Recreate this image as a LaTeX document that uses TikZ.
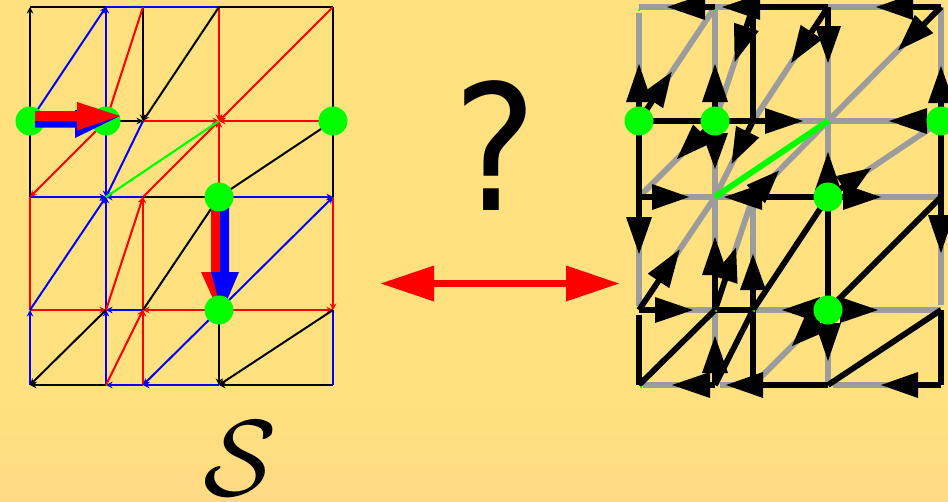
\documentclass[tikz,border=0pt]{standalone}
\usepackage{fontspec}
\newfontfamily\qfont{DejaVu Sans Condensed}
\usetikzlibrary{arrows.meta,calc}
\definecolor{bgtop}{HTML}{FFE17F}
\definecolor{bgbot}{HTML}{FFDA84}
\definecolor{gr}{HTML}{9C9C9C}
\definecolor{gn}{HTML}{00FF00}
\definecolor{bl}{HTML}{0000FF}
\definecolor{rd}{HTML}{FF0000}
\tikzset{
 thin edge/.style={line width=2pt,-{Stealth[length=6.5pt,width=6.5pt]}},
 plain edge/.style={line width=2pt},
 thick black/.style={line width=5.8pt,black},
 thick gray/.style={line width=5.8pt,gr},
 spot/.style={circle,fill=gn,inner sep=0pt,minimum size=29pt},
 speck/.style={circle,fill=gn,inner sep=0pt,minimum size=3pt},
}
\newcommand{\mA}[3]{\draw[thin edge,#1] (#2) -- (#3);}
\newcommand{\mP}[3]{\draw[plain edge,#1] (#2) -- (#3);}
\newcommand{\rightedges}{%
 \rE{R10}{R00}{10}{47}
 \rE{R30}{R10}{68}{105}
 \rE{R40}{R30}{28}{64}
 \rE{R01}{R00v}{19}{56}
 \rE{R01}{R03u}{96}{132}
 \rE{R11}{R10}{19}{56}
 \rE{R11}{R12}{12}{47}
 \rE{R13}{R12}{35}{72}
 \rE{R14}{R13}{12}{48}
 \rE{R23}{R22}{20}{55}
 \rE{R30}{R31}{19}{55}
 \rE{R32}{R31}{7}{44}
 \rE{R33}{R34}{13}{50}
 \rE{R41}{R40}{18}{54}
 \rE{R42}{R43u}{18}{55}
 \rE{R01}{R31}{126}{163}
 \rE{R41}{R31}{14}{51}
 \rE{R02}{R12}{13}{49}
 \rE{R32}{R12}{66}{103}
 \rE{R32}{R42}{15}{52}
 \rE{R03}{R13}{16}{53}
 \rE{R33}{R23}{8}{45}
 \rE{R33}{R43}{12}{49}
 \rE{R14}{R04b}{5}{42}
 \rE{R34}{R14b}{65}{101}
 \rE{R44}{R34b}{23}{59}
 \rE{R01}{R10}{24}{58}
 \rE{R20}{R11}{21}{57}
 \rE{R30}{R21}{30}{66}
 \rE{R40}{R31}{24}{60}
 \rE{R11}{R02}{18}{53}
 \rE{R21}{R12}{12}{47}
 \rE{R22}{R31}{4}{36}
 \rE{R32}{R41}{18}{51}
 \rE{R03}{R12}{35}{72}
 \rE{R13}{R22}{32}{65}
 \rE{R33}{R24}{18}{50}
}
\newcommand{\blackedges}{%
 \bE{R02}{R01}\bE{R03d}{R04}\bE{R23}{R24}\bE{R21}{R20}\bE{R32}{R33}
 \bE{R41}{R42}\bE{R43}{R44}\bE{R13}{R23}\bE{R32}{R23}\bE{R42}{R33}
 \bE{R13}{R04}\bE{R23}{R14}\bE{R43}{R34}
}
\begin{document}
\begin{tikzpicture}[x=1pt,y=-1pt]
\useasboundingbox (0,0) rectangle (948,501);
\fill[bgtop] (0,0) rectangle (948,401);
\shade[top color=bgtop,bottom color=bgbot] (0,400) rectangle (948,501);
\foreach \i/\x in {0/30,1/106,2/143,3/219,4/333}{
 \foreach \j/\y in {0/7,1/121,2/197,3/310,4/385}{
  \coordinate (L\i\j) at (\x,\y);
 }}
\foreach \i/\x in {0/639,1/715,2/753,3/828,4/941}{
 \foreach \j/\y in {0/7,1/121,2/197,3/310,4/385}{
  \coordinate (R\i\j) at (\x,\y);
 }}
\coordinate (R00v) at (639,13);
\coordinate (R03u) at (639,306);
\coordinate (R03d) at (639,315);
\coordinate (R43u) at (941,305);
\coordinate (R04b) at (643,385);
\coordinate (R14b) at (720,385);
\coordinate (R34b) at (833,385);
% left mesh
\mP{black}{L00}{L10}\mP{bl}{L10}{L30}\mP{black}{L30}{L40}
\mP{black}{L01}{L11}\mA{black}{L11}{L21}\mA{rd}{L21}{L31}\mA{rd}{L41}{L31}
\mA{bl}{L02}{L12}\mA{bl}{L22}{L12}\mP{black}{L22}{L32}\mA{bl}{L32}{L42}
\mA{rd}{L03}{L13}\mA{bl}{L23}{L13}\mA{rd}{L33}{L23}\mA{rd}{L33}{L43}
\mA{black}{L14}{L04}\mA{bl}{L24}{L14}\mA{bl}{L34}{L24}\mA{black}{L44}{L34}
\mA{black}{L01}{L00}\mP{black}{L01}{L02}\mP{rd}{L02}{L03}\mA{bl}{L04}{L03}
\mA{bl}{L11}{L10}\mA{bl}{L11}{L12}\mA{bl}{L13}{L12}\mA{bl}{L14}{L13}
\mA{black}{L20}{L21}\mA{rd}{L23}{L22}\mA{rd}{L24}{L23}
\mA{rd}{L30}{L31}\mA{rd}{L32}{L31}\mA{black}{L33}{L34}
\mP{black}{L40}{L41}\mP{black}{L41}{L42}\mA{rd}{L42}{L43}\mP{bl}{L43}{L44}
\mA{bl}{L01}{L10}\mP{rd}{L11}{L20}\mA{black}{L30}{L21}\mA{rd}{L40}{L31}
\mA{rd}{L11}{L02}\mA{bl}{L21}{L12}\mA{rd}{L22}{L31}\mP{black}{L32}{L41}
\mA{bl}{L03}{L12}\mA{rd}{L13}{L22}\mP{black}{L23}{L32}\mA{bl}{L33}{L42}
\mA{black}{L13}{L04}\mA{rd}{L14}{L23}\mA{bl}{L33}{L24}\mA{black}{L43}{L34}
\draw[line width=2.2pt,gn] (L12) -- (L31);
% left spots under the horizontal arrow
\node[spot] (sa) at (L01) {};
\node[spot] (sb) at (L11) {};
% large arrows, left
\fill[bl] (35,116) -- (75,116) -- (75,110) -- (120,116) -- (75,138) -- (75,127.500) -- (35,127.500) -- cycle;
\fill[rd] (35,111) -- (77,111) -- (77,102) -- (120,116) -- (77,130.500) -- (77,121) -- (35,121) -- cycle;
\fill[rd] (211,205) -- (220,205) -- (220,272) -- (236,272) -- (219,312) -- (201,272) -- (211,272) -- cycle;
\fill[bl] (220,205) -- (229,205) -- (229,272) -- (239,272) -- (222,312) -- (211,272) -- (220,272) -- cycle;
\node[spot] (sc) at (L41) {};
\node[spot] (sd) at (L32) {};
\node[spot] (se) at (L33) {};
% right mesh: gray, black, green, heads
\newcommand{\rE}[4]{\draw[thick gray] ($(#1)!#4pt-6pt!(#2)$) -- (#2);}
\newcommand{\bE}[2]{}
\rightedges
\renewcommand{\rE}[4]{\draw[thick black] (#1) -- ($(#1)!#3pt+1pt!(#2)$);}
\renewcommand{\bE}[2]{\draw[thick black] (#1) -- (#2);}
\rightedges\blackedges
\draw[line width=6pt,gn] (R12) -- (R31);
\renewcommand{\rE}[4]{\coordinate (bb) at ($(#1)!#3pt!(#2)$);
 \fill[black] ($(bb)!13pt!90:(#2)$) -- ($(#1)!#4pt+1pt!(#2)$) -- ($(bb)!13pt!-90:(#2)$) -- cycle;}
\renewcommand{\bE}[2]{}
\rightedges
\foreach \c in {R01,R11,R41,R32,R33}{\node[spot] at (\c) {};}
\foreach \p in {{639,10},{715,10},{829,122},{716,311},{754,311},{641,387}}{\node[speck,minimum size=2.5pt] at (\p) {};}
% double arrow
\coordinate (da) at (381,283.500);
\coordinate (db) at (619,283.500);
\coordinate (dc) at (434,283.500);
\coordinate (dd) at (566,283.500);
\draw[rd,line width=7pt] (dc) -- (dd);
\fill[rd] (da) -- ++(53,-18) -- ++(0,36) -- cycle;
\fill[rd] (db) -- ++(-53,-18) -- ++(0,36) -- cycle;
% labels
\node[anchor=base,inner sep=0pt,font=\qfont\fontsize{175}{175}\selectfont] (q) at (495,210) {?};
\node[inner sep=0pt,scale=10.8] (cs) at (240,459) {$\mathcal{S}$};
\end{tikzpicture}
\end{document}
